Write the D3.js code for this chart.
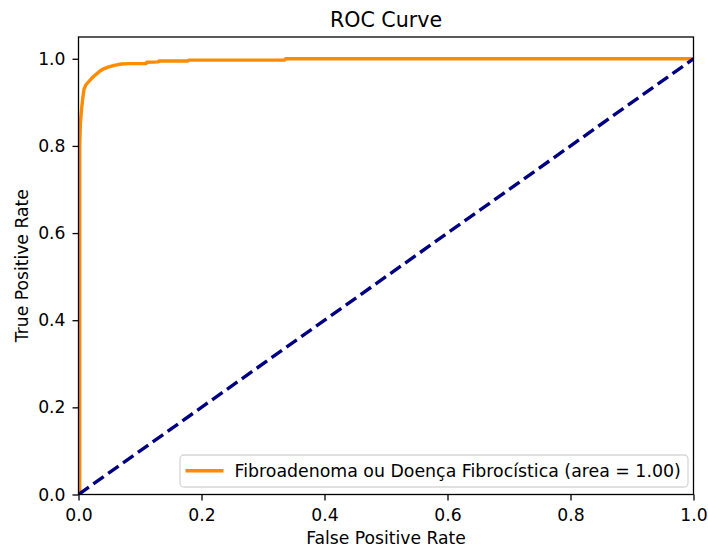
<!DOCTYPE html>
<html>
<head>
<meta charset="utf-8">
<script src="https://cdn.jsdelivr.net/npm/d3@7"></script>
<style>
  html, body { margin: 0; padding: 0; background: #fff; }
  svg text { font-family: "DejaVu Sans", sans-serif; fill: #000; }
</style>
</head>
<body>
<svg id="chart" width="708" height="549"></svg>
<script>
// ---- data ----
const fpr = [0.0, 0.002, 0.002, 0.003, 0.005, 0.007, 0.009, 0.012, 0.015, 0.020, 0.025, 0.030, 0.035, 0.041, 0.048, 0.058, 0.070, 0.082, 0.110, 0.111, 0.130, 0.131, 0.178, 0.180, 0.335, 0.337, 1.0];
const tpr = [0.0, 0.010, 0.800, 0.850, 0.885, 0.910, 0.930, 0.940, 0.945, 0.953, 0.960, 0.966, 0.972, 0.977, 0.981, 0.985, 0.988, 0.989, 0.989, 0.992, 0.993, 0.995, 0.995, 0.997, 0.997, 1.000, 1.000];
const chanceX = [0, 1];
const chanceY = [0, 1];
const xTicks = [0.0, 0.2, 0.4, 0.6, 0.8, 1.0];
const yTicks = [0.0, 0.2, 0.4, 0.6, 0.8, 1.0];
const titleText = "ROC Curve";
const xLabel = "False Positive Rate";
const yLabel = "True Positive Rate";
const legendLabel = "Fibroadenoma ou Doença Fibrocística (area = 1.00)";

// ---- layout ----
const svg = d3.select("#chart");
const L = 78.5, R = 693.5, T = 37, B = 494.5;
const x = d3.scaleLinear().domain([0, 1]).range([L, R]);
const y = d3.scaleLinear().domain([0, 1.05]).range([B, T]);
const fs = 17.2;

svg.append("defs").append("clipPath").attr("id", "clip")
  .append("rect").attr("x", L).attr("y", T).attr("width", R - L).attr("height", B - T);

const line = d3.line().x(d => x(d[0])).y(d => y(d[1]));

const g = svg.append("g").attr("clip-path", "url(#clip)");
g.append("path")
  .datum(fpr.map((v, i) => [v, tpr[i]]))
  .attr("d", line)
  .attr("fill", "none")
  .attr("stroke", "#ff8c00")
  .attr("stroke-width", 3.4)
  .attr("stroke-linejoin", "round")
  .attr("stroke-linecap", "square");

g.append("path")
  .datum(chanceX.map((v, i) => [v, chanceY[i]]))
  .attr("d", line)
  .attr("fill", "none")
  .attr("stroke", "#000080")
  .attr("stroke-width", 3.4)
  .attr("stroke-dasharray", "12.7,5.5");

// axes
const xAxis = d3.axisBottom(x).tickValues(xTicks).tickFormat(d3.format(".1f"))
  .tickSizeInner(6).tickSizeOuter(0).tickPadding(8);
const yAxis = d3.axisLeft(y).tickValues(yTicks).tickFormat(d3.format(".1f"))
  .tickSizeInner(6).tickSizeOuter(0).tickPadding(7);

const gx = svg.append("g").attr("transform", `translate(0,${B})`).call(xAxis);
const gy = svg.append("g").attr("transform", `translate(${L},0)`).call(yAxis);
[gx, gy].forEach(a => {
  a.select(".domain").remove();
  a.selectAll(".tick line").attr("stroke", "#000").attr("stroke-width", 1.3);
  a.selectAll(".tick text").attr("font-size", fs).attr("font-family", "DejaVu Sans").attr("fill", "#000");
});

// frame
svg.append("rect").attr("x", L).attr("y", T).attr("width", R - L).attr("height", B - T)
  .attr("fill", "none").attr("stroke", "#000").attr("stroke-width", 1.3);

// title & labels
svg.append("text").attr("x", (L + R) / 2).attr("y", 26.5).attr("text-anchor", "middle")
  .attr("font-size", 20.6).text(titleText);
svg.append("text").attr("x", (L + R) / 2).attr("y", 544).attr("text-anchor", "middle")
  .attr("font-size", fs).text(xLabel);
svg.append("text").attr("transform", `translate(28,${(T + B) / 2}) rotate(-90)`)
  .attr("text-anchor", "middle").attr("font-size", fs).text(yLabel);

// legend
const lg = svg.append("g");
lg.append("rect").attr("x", 180).attr("y", 455).attr("width", 508).attr("height", 32)
  .attr("rx", 4).attr("ry", 4)
  .attr("fill", "#fff").attr("fill-opacity", 0.8)
  .attr("stroke", "#d6d6d6").attr("stroke-width", 1.3);
lg.append("line").attr("x1", 185.5).attr("x2", 223.5).attr("y1", 470.7).attr("y2", 470.7)
  .attr("stroke", "#ff8c00").attr("stroke-width", 3.4);
lg.append("text").attr("x", 234.5).attr("y", 477).attr("font-size", 17.35).text(legendLabel);
</script>
</body>
</html>
